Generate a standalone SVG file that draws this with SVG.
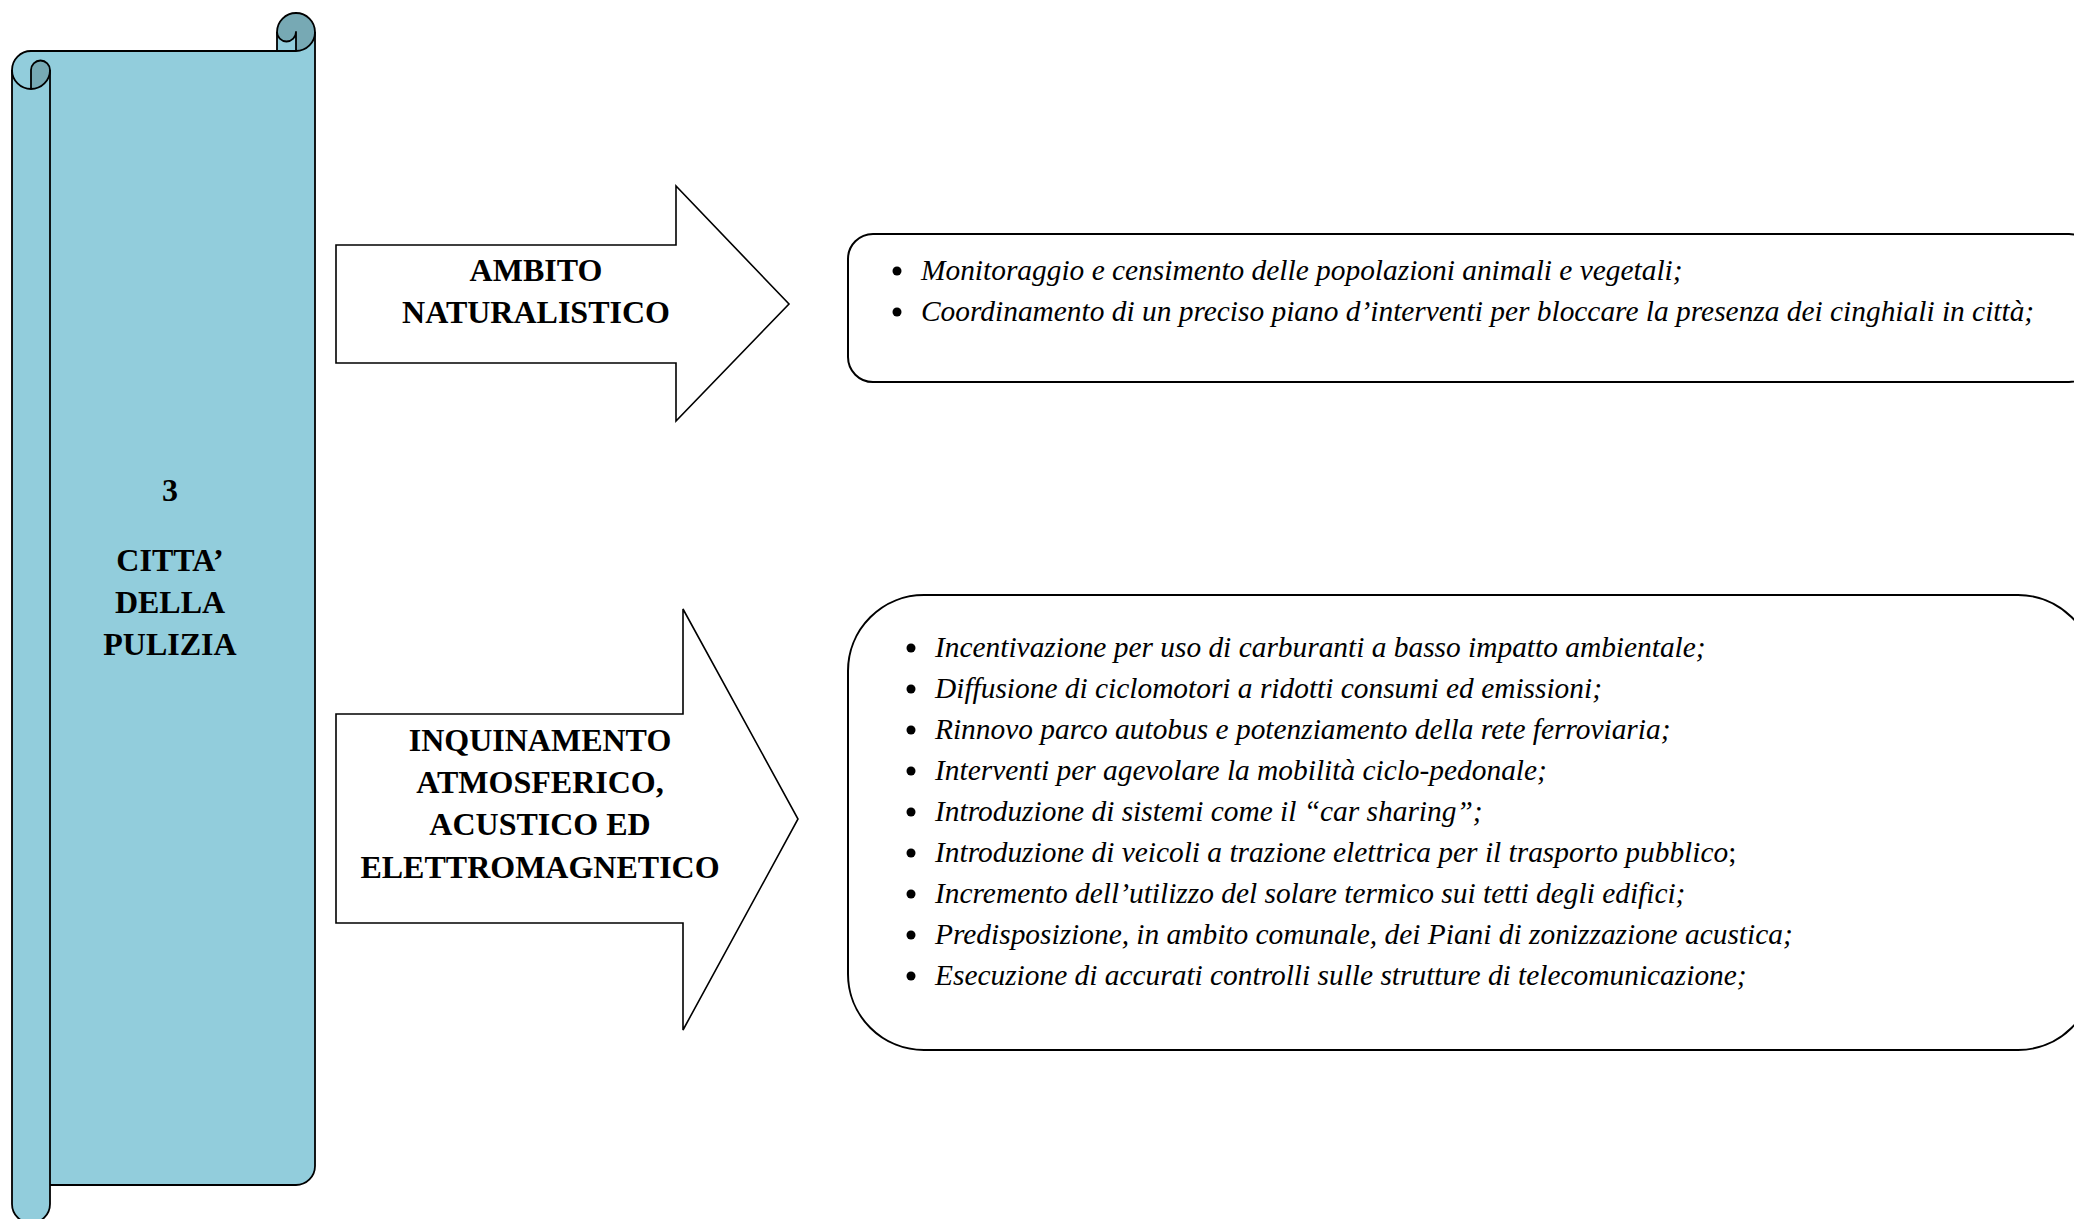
<svg xmlns="http://www.w3.org/2000/svg" width="2074" height="1219" viewBox="0 0 2074 1219">
<style>
.bold{font-family:"Liberation Serif","Times New Roman",serif;font-weight:bold;font-size:32px;fill:#000;text-anchor:middle}
.it{font-family:"Liberation Serif","Times New Roman",serif;font-style:italic;font-size:29.4px;fill:#000}
.ln{fill:none;stroke:#000;stroke-width:1.8;stroke-linejoin:round}
.arrow{fill:#fff;stroke:#000;stroke-width:1.6;stroke-linejoin:miter}
.box{fill:#fff;stroke:#000;stroke-width:2}
.light{fill:#92CDDC}
.dark{fill:#77A9B4}
</style>
<rect width="2074" height="1219" fill="#fff"/>
<g id="scroll">
  <path class="light" d="M12,70 A19,19 0 0 1 31,51 L277,51 L277,32 A19,19 0 0 1 315,32 L315,1166 A19,19 0 0 1 296,1185 L50,1185 L50,1204 A19,19 0 0 1 12,1204 Z"/>
  <path class="dark" d="M277,32 A19,19 0 0 1 315,32 A19,19 0 0 1 296,51 L296,32 A9.5,9.5 0 0 1 277,32 Z"/>
  <path class="dark" d="M31,70 A9.5,9.5 0 0 1 50,70 A19,19 0 0 1 31,89 Z"/>
  <path class="ln" d="M12,1204 L12,70 A19,19 0 0 1 31,51 L296,51"/>
  <path class="ln" d="M277,51 L277,32 A19,19 0 0 1 315,32 L315,1166 A19,19 0 0 1 296,1185 L50,1185"/>
  <path class="ln" d="M315,32 A19,19 0 0 1 296,51 L296,32 A9.5,9.5 0 0 1 277,32"/>
  <path class="ln" d="M12,70 A19,19 0 0 0 31,89 A19,19 0 0 0 50,70 A9.5,9.5 0 0 0 31,70 L31,89"/>
  <path class="ln" d="M50,70 L50,1204 A19,19 0 0 1 12,1204"/>
  <text class="bold" x="170" y="501">3</text>
  <text class="bold" x="170" y="571">CITTA’</text>
  <text class="bold" x="170" y="613">DELLA</text>
  <text class="bold" x="170" y="655">PULIZIA</text>
</g>
<g id="arrow-naturalistico">
  <polygon class="arrow" points="336,245 676,245 676,186 789,304 676,421 676,363 336,363"/>
  <text class="bold" x="536" y="281">AMBITO</text>
  <text class="bold" x="536" y="323">NATURALISTICO</text>
</g>
<g id="arrow-inquinamento">
  <polygon class="arrow" points="336,714 683,714 683,609 798,819 683,1030 683,923 336,923"/>
  <text class="bold" x="540" y="751">INQUINAMENTO</text>
  <text class="bold" x="540" y="793">ATMOSFERICO,</text>
  <text class="bold" x="540" y="835">ACUSTICO ED</text>
  <text class="bold" x="540" y="878">ELETTROMAGNETICO</text>
</g>
<g id="box-naturalistico">
  <rect class="box" x="848" y="234" width="1246" height="148" rx="25" ry="25"/>
  <circle cx="897" cy="271" r="4.5"/>
  <circle cx="897" cy="312" r="4.5"/>
  <text class="it" x="921" y="280">Monitoraggio e censimento delle popolazioni animali e vegetali;</text>
  <text class="it" x="921" y="321">Coordinamento di un preciso piano d’interventi per bloccare la presenza dei cinghiali in città;</text>
</g>
<g id="box-inquinamento">
  <rect class="box" x="848" y="595" width="1246" height="455" rx="76" ry="76"/>
  <circle cx="911" cy="648" r="4.5"/>
  <circle cx="911" cy="689" r="4.5"/>
  <circle cx="911" cy="730" r="4.5"/>
  <circle cx="911" cy="771" r="4.5"/>
  <circle cx="911" cy="812" r="4.5"/>
  <circle cx="911" cy="853" r="4.5"/>
  <circle cx="911" cy="894" r="4.5"/>
  <circle cx="911" cy="935" r="4.5"/>
  <circle cx="911" cy="976" r="4.5"/>
  <text class="it" x="935" y="657">Incentivazione per uso di carburanti a basso impatto ambientale;</text>
  <text class="it" x="935" y="698">Diffusione di ciclomotori a ridotti consumi ed emissioni;</text>
  <text class="it" x="935" y="739">Rinnovo parco autobus e potenziamento della rete ferroviaria;</text>
  <text class="it" x="935" y="780">Interventi per agevolare la mobilità ciclo-pedonale;</text>
  <text class="it" x="935" y="821">Introduzione di sistemi come il “car sharing”;</text>
  <text class="it" x="935" y="862">Introduzione di veicoli a trazione elettrica per il trasporto pubblico<tspan font-style="normal">;</tspan></text>
  <text class="it" x="935" y="903">Incremento dell’utilizzo del solare termico sui tetti degli edifici;</text>
  <text class="it" x="935" y="944">Predisposizione, in ambito comunale, dei Piani di zonizzazione acustica;</text>
  <text class="it" x="935" y="985">Esecuzione di accurati controlli sulle strutture di telecomunicazione;</text>
</g>
<g id="connectors"></g>
</svg>
